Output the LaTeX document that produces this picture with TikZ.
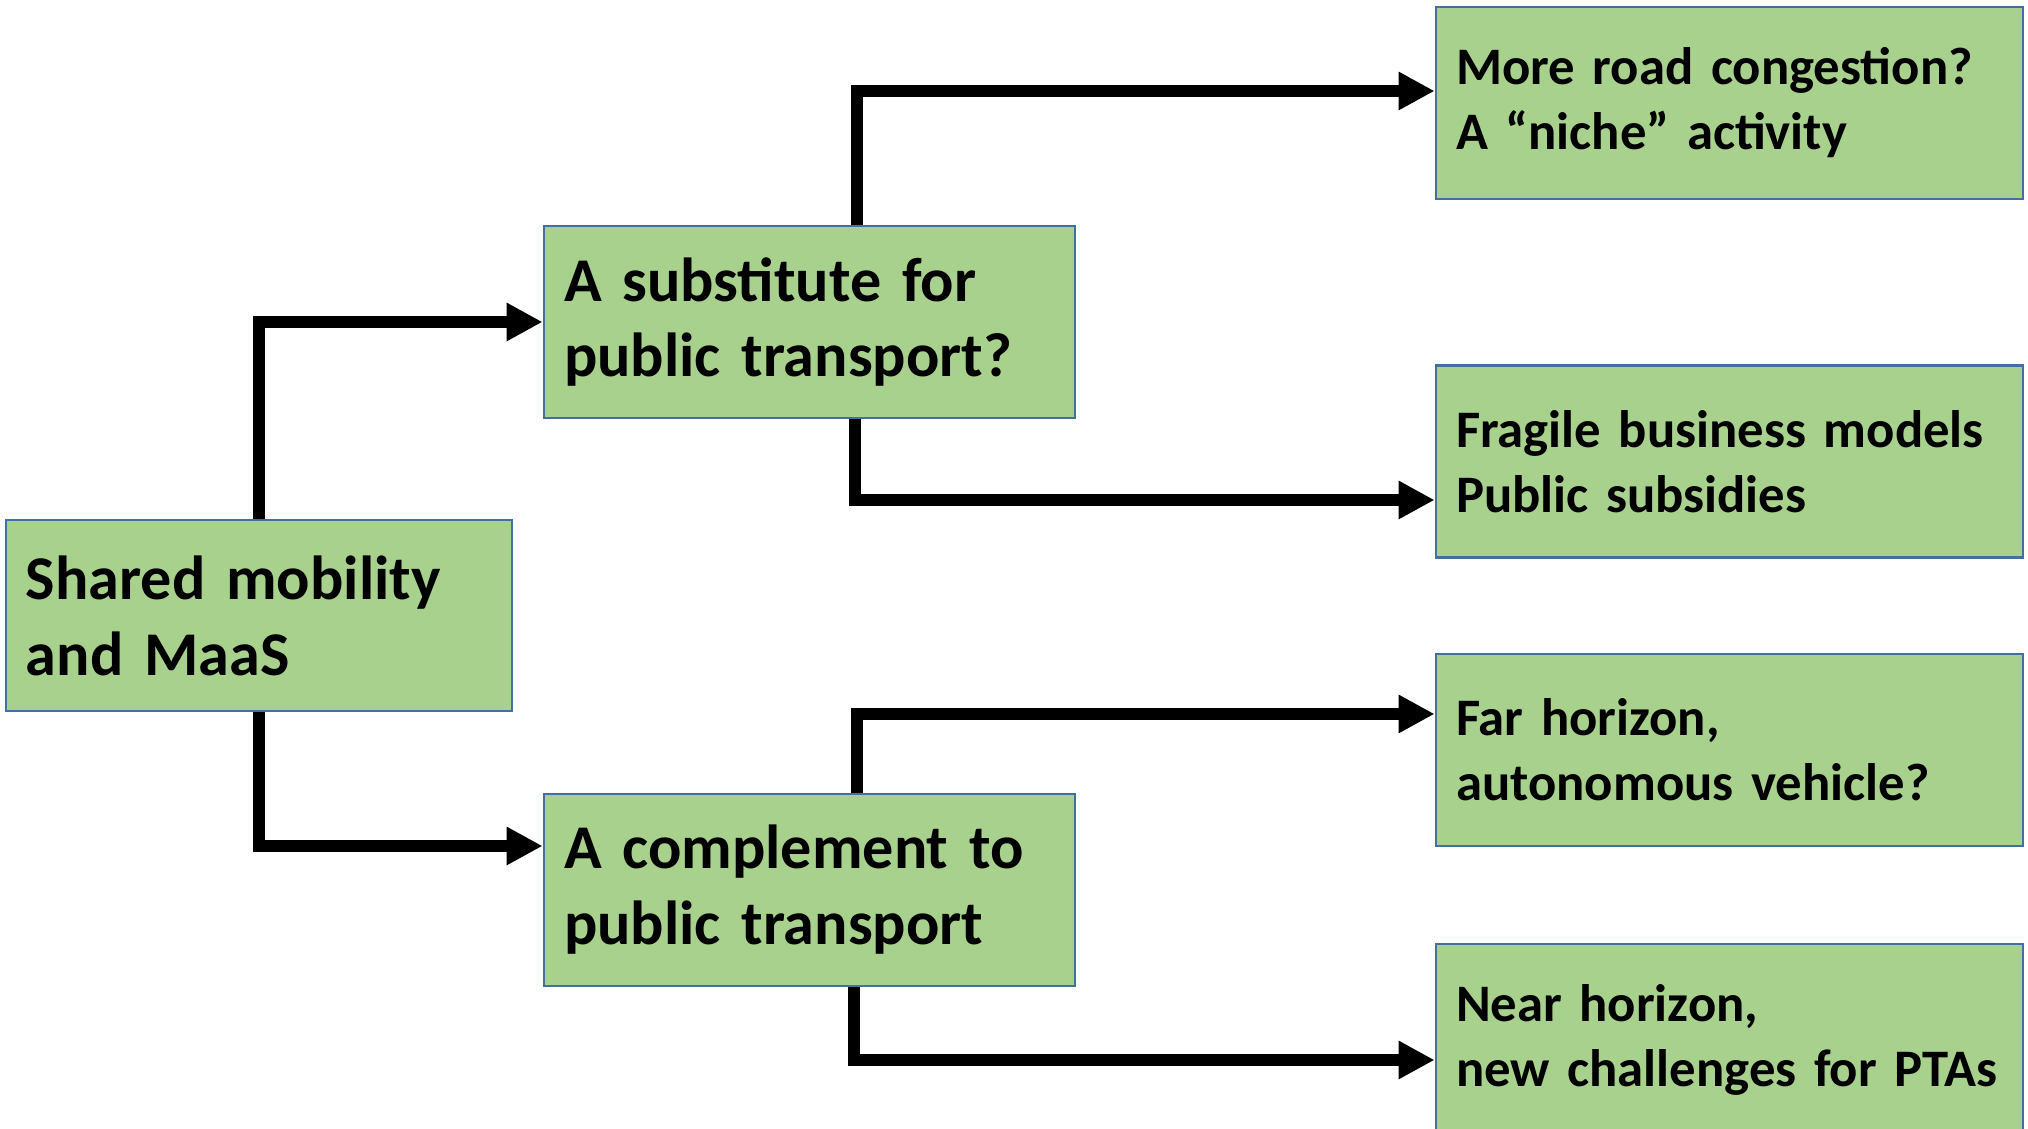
\documentclass[tikz,border=0pt]{standalone}
\usepackage{fontspec}
\setmainfont{Carlito}
\usepackage{tikz}
\usetikzlibrary{arrows.meta,positioning}
\usepackage{xcolor}
\definecolor{boxgreen}{HTML}{A9D18E}
\definecolor{boxblue}{HTML}{41719C}

\begin{document}
\begin{tikzpicture}[
  box/.style={draw=boxblue, fill=boxgreen, line width=0.8pt, align=left,
    inner xsep=0.2cm, minimum height=1.92cm, font=\bfseries},
  bigbox/.style={box, text width=#1, font=\fontsize{17.7pt}{21.6pt}\selectfont\bfseries},
  smallbox/.style={box, text width=5.47cm, font=\fontsize{15pt}{18.5pt}\selectfont\bfseries},
  arr/.style={line width=0.12cm, -{Triangle[length=0.36cm,width=0.36cm]}}
]

\useasboundingbox (0,0) rectangle (20.28,11.29);

\node[bigbox=4.66cm, minimum height=1.91cm] (shared) at (2.59,5.135) {Shared mobility\\and MaaS};

\node[bigbox=4.91cm] (subst) at (8.095,8.07) {A substitute for\\public transport?};
\node[bigbox=4.91cm] (compl) at (8.095,2.39) {A complement to\\public transport};

\node[smallbox] (congest) at (17.295,10.26) {More road congestion?\\A “niche” activity};
\node[smallbox] (fragile) at (17.295,6.675) {Fragile business models\\Public subsidies};
\node[smallbox] (far) at (17.295,3.79) {Far horizon,\\autonomous vehicle?};
\node[smallbox] (near) at (17.295,0.89) {Near horizon,\\new challenges for PTAs};

\draw[arr] (shared.north) |- (subst.west);
\draw[arr] (shared.south) |- ([yshift=0.44cm]compl.west);

\draw[arr] ([xshift=0.47cm]subst.north) |- ([yshift=0.12cm]congest.west);
\draw[arr] ([xshift=0.45cm]subst.south) |- ([yshift=-0.385cm]fragile.west);

\draw[arr] ([xshift=0.47cm]compl.north) |- ([yshift=0.36cm]far.west);
\draw[arr] ([xshift=0.44cm]compl.south) |- ([yshift=-0.2cm]near.west);

\end{tikzpicture}
\end{document}
